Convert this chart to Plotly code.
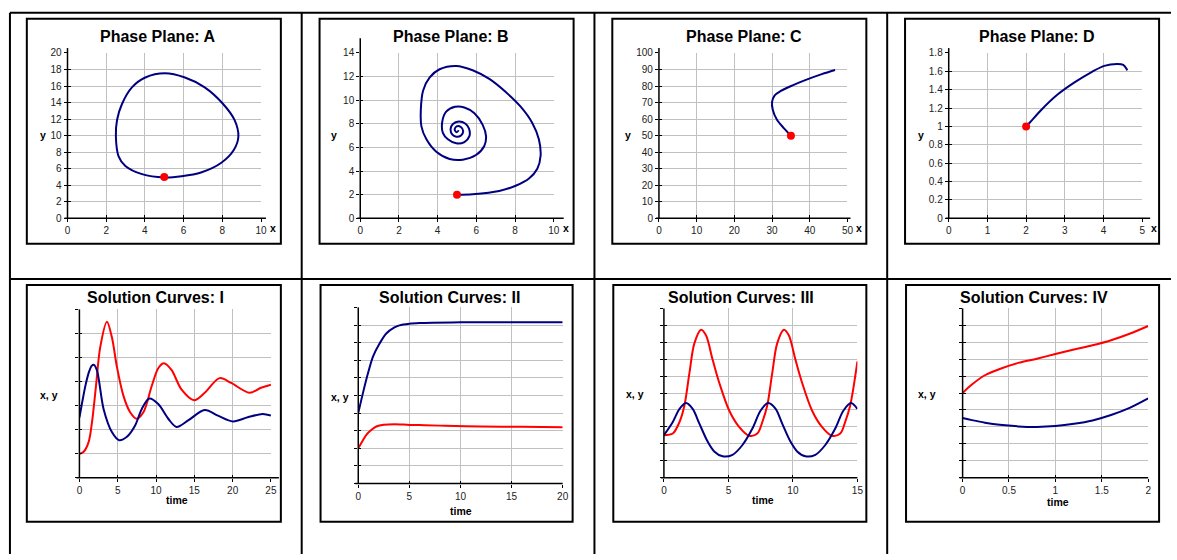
import plotly.graph_objects as go

W, H = 1177, 560

# ---------------- data ----------------
# Phase Plane A (closed orbit)
A_x = [5.0, 5.9, 6.9, 7.95, 8.6, 8.83, 8.63, 8.03, 7.09, 6.07, 5.03, 4.02, 3.33, 2.82, 2.56, 2.5, 2.64, 2.99, 3.85, 5.0]
A_y = [4.95, 5.1, 5.55, 6.73, 8.3, 9.9, 11.9, 13.86, 15.84, 17.03, 17.54, 17.03, 15.84, 13.86, 11.9, 9.9, 7.5, 6.34, 5.35, 4.95]
A_start = (5, 5)

# Phase Plane B (spiral)
B_x = [5.0, 5.81, 7.18, 8.03, 8.72, 9.15, 9.32, 9.23, 8.89, 8.29, 7.52, 6.67, 5.81, 4.96, 4.1, 3.59, 3.25, 3.13,
       3.16, 3.42, 3.93, 4.62, 5.3, 5.98, 6.41, 6.5, 6.32, 5.9, 5.38, 4.9, 4.44, 4.24, 4.27, 4.53, 4.96, 5.38,
       5.64, 5.62, 5.44, 5.09, 4.79, 4.67, 4.75, 4.96, 5.21, 5.32, 5.2, 4.98, 4.88, 4.98, 5.09]
B_y = [2.0, 2.05, 2.32, 2.76, 3.37, 4.2, 5.3, 6.69, 8.07, 9.45, 10.69, 11.8, 12.54, 12.9, 12.62, 11.93, 10.83, 9.17,
       7.79, 6.69, 5.64, 5.03, 4.97, 5.36, 6.13, 6.96, 7.93, 8.9, 9.39, 9.44, 9.03, 8.2, 7.24, 6.69, 6.35, 6.46,
       6.96, 7.6, 8.01, 8.2, 7.98, 7.57, 7.1, 6.91, 7.02, 7.38, 7.73, 7.79, 7.51, 7.29, 7.46]
B_start = (5, 2)

# Phase Plane C
C_x = [35.0, 33.1, 31.3, 30.2, 30.0, 30.7, 32.2, 35.3, 38.8, 43.2, 46.7]
C_y = [50.0, 54.6, 59.6, 65.5, 70.4, 74.4, 76.9, 80.3, 83.6, 87.2, 89.7]
C_start = (35, 50)

# Phase Plane D
D_x = [2.0, 2.09, 2.39, 2.82, 3.25, 3.68, 4.02, 4.36, 4.51, 4.59, 4.61]
D_y = [1.0, 1.04, 1.18, 1.35, 1.48, 1.59, 1.66, 1.68, 1.67, 1.63, 1.61]
D_start = (2, 1)

# Solution Curves I
I_tx = [0, 0.4, 0.8, 1.2, 1.6, 1.9, 2.3, 3.16, 4.24, 5.19, 6.2, 7.27, 8.13, 9.13, 10.29, 11.6, 12.67, 14.19,
        16.35, 18.08, 20.03, 21.97, 23.92, 25]
I_x = [2.5, 3.2, 3.85, 4.35, 4.65, 4.69, 4.45, 2.85, 1.9, 1.56, 1.7, 2.17, 2.85, 3.29, 3.06, 2.45, 2.11, 2.38,
       2.81, 2.58, 2.34, 2.51, 2.65, 2.58]
I_ty = [0, 0.56, 1.21, 1.64, 2.16, 2.72, 3.59, 4.24, 4.89, 5.75, 6.62, 7.48, 8.35, 9.43, 10.29, 11.03, 12.02,
        13.32, 14.97, 16.35, 18.3, 19.81, 22.2, 23.7, 25]
I_y = [0.99, 1.08, 1.49, 2.3, 3.8, 5.43, 6.48, 5.84, 4.62, 3.4, 2.72, 2.45, 2.72, 3.8, 4.55, 4.76, 4.48, 3.67,
       3.22, 3.53, 4.14, 3.94, 3.53, 3.74, 3.87]

# Solution Curves II
II_tx = [0, 0.48, 0.97, 1.45, 2.1, 2.74, 3.5, 4.03, 5, 6, 7.26, 10, 15, 20]
II_x = [4.0, 5.19, 6.3, 7.22, 7.96, 8.52, 8.85, 8.98, 9.07, 9.11, 9.13, 9.15, 9.15, 9.15]
II_ty = [0, 0.4, 0.81, 1.3, 1.77, 2.5, 3.55, 5, 6.5, 8.5, 12, 16, 20]
II_y = [2.0, 2.4, 2.78, 3.05, 3.24, 3.34, 3.37, 3.33, 3.31, 3.28, 3.24, 3.22, 3.2]

# Solution Curves III
III_tx = [0, 0.69, 1.21, 1.72, 2.23, 2.75, 3.39, 3.9, 4.55, 5.32, 6.09, 6.86, 7.5, 8.09, 8.66, 9.17, 9.81,
          10.33, 10.97, 11.74, 12.51, 13.28, 13.92, 14.51, 15]
III_x = [2.51, 3.29, 4.06, 4.41, 4.06, 3.19, 2.13, 1.55, 1.26, 1.35, 1.93, 2.9, 3.97, 4.41, 4.06, 3.19, 2.13,
         1.55, 1.26, 1.35, 1.93, 2.9, 3.97, 4.41, 4.06]
III_ty = [0, 0.69, 1.21, 1.59, 1.98, 2.36, 2.88, 3.26, 3.78, 4.29, 5.06, 5.83, 6.6, 7.24, 7.63, 8.01, 8.4, 8.78,
          9.3, 9.68, 10.2, 10.71, 11.48, 12.25, 13.02, 13.67, 14.05, 14.44, 15]
III_y = [2.51, 2.61, 3.29, 4.26, 6.19, 7.93, 8.74, 8.41, 6.96, 5.61, 3.97, 3.0, 2.48, 2.61, 3.29, 4.26, 6.19,
         7.93, 8.74, 8.41, 6.96, 5.61, 3.97, 3.0, 2.48, 2.61, 3.29, 4.26, 6.87]

# Solution Curves IV
IV_t = [0, 0.1, 0.24, 0.4, 0.6, 0.8, 1.0, 1.2, 1.4, 1.6, 1.8, 2.0]
IV_x = [3.52, 3.4, 3.25, 3.12, 3.03, 3.0, 3.05, 3.18, 3.38, 3.7, 4.12, 4.68]
IV_y = [5.0, 5.5, 6.05, 6.42, 6.78, 7.03, 7.3, 7.57, 7.82, 8.12, 8.5, 8.96]

# ---------------- styling / layout ----------------
NAVY = "#000080"
RED = "#ff0000"
GRID = "#c0c0c0"
FONT = "Liberation Sans, Arial, sans-serif"

charts = [
    dict(title="Phase Plane: A", box=(24, 13, 280, 243), area=(65, 217, 260, 48), xr=[0, 10], xd=2, yr=[0, 20], yd=2,
         ylab=True, tpos=(156, 31), over=(5, 5), xl=("x", 272.5, 227), yl=("y", 40, 132),
         lines=[(A_x, A_y, NAVY)], dot=A_start),
    dict(title="Phase Plane: B", box=(319, 13, 575, 243), area=(360, 217, 555, 48), xr=[0, 10], xd=2, yr=[0, 14], yd=2,
         ylab=True, tpos=(451, 31), over=(10, 15), xl=("x", 567.5, 227), yl=("y", 334, 132),
         lines=[(B_x, B_y, NAVY)], dot=B_start),
    dict(title="Phase Plane: C", box=(614, 13, 870, 243), area=(661, 217, 851, 48), xr=[0, 50], xd=10, yr=[0, 100], yd=10,
         ylab=True, tpos=(746.5, 31), over=(3, 5), xl=("x", 862.5, 227), yl=("y", 630, 132),
         lines=[(C_x, C_y, NAVY)], dot=C_start),
    dict(title="Phase Plane: D", box=(909, 13, 1165, 243), area=(953, 217, 1148, 48), xr=[0, 5], xd=1, yr=[0, 1.8], yd=0.2,
         ylab=True, tpos=(1041.5, 31), over=(8, 5), xl=("x", 1160, 227), yl=("y", 925, 132),
         lines=[(D_x, D_y, NAVY)], dot=D_start),
    dict(title="Solution Curves: I", box=(24, 285, 280, 527), area=(77, 482, 270, 310), xr=[0, 25], xd=5, yr=[0, 7], yd=1,
         ylab=False, tpos=(154, 298), over=(8, 0), xl=("time", 175.5, 505), yl=("x, y", 46.5, 398),
         lines=[(I_ty, I_y, RED), (I_tx, I_x, NAVY)], dot=None),
    dict(title="Solution Curves: II", box=(320, 285, 574, 527), area=(358, 488, 564, 308), xr=[0, 20], xd=5, yr=[0, 10], yd=1,
         ylab=False, tpos=(449.5, 298), over=(0, 0), xl=("time", 462, 516), yl=("x, y", 340, 400),
         lines=[(II_ty, II_y, RED), (II_tx, II_x, NAVY)], dot=None),
    dict(title="Solution Curves: III", box=(615, 285, 870, 527), area=(666, 482, 861, 309), xr=[0, 15], xd=5, yr=[0, 10], yd=1,
         ylab=False, tpos=(744, 298), over=(0, 0), xl=("time", 765.5, 505), yl=("x, y", 636.5, 397),
         lines=[(III_ty, III_y, RED), (III_tx, III_x, NAVY)], dot=None),
    dict(title="Solution Curves: IV", box=(910, 285, 1165, 527), area=(967, 482, 1154, 309), xr=[0, 2], xd=0.5, yr=[0, 10], yd=1,
         ylab=False, tpos=(1039, 298), over=(0, 0), xl=("time", 1063, 507), yl=("x, y", 931.5, 397),
         lines=[(IV_t, IV_y, RED), (IV_t, IV_x, NAVY)], dot=None),
]


def px(x):
    return x / W


def py(y):
    return 1 - y / H


fig = go.Figure()
shapes = []
annotations = []
layout = {}
N = len(charts)

for i, c in enumerate(charts, start=1):
    xa = "x" if i == 1 else f"x{i}"
    ya = "y" if i == 1 else f"y{i}"
    xk = "xaxis" if i == 1 else f"xaxis{i}"
    yk = "yaxis" if i == 1 else f"yaxis{i}"
    j = i + N
    x2a, y2a = f"x{j}", f"y{j}"
    x2k, y2k = f"xaxis{j}", f"yaxis{j}"
    x0, y0, x1, y1 = c["area"]
    xdom = [px(x0), px(x1)]
    ydom = [py(y0), py(y1)]
    tickfont = dict(family=FONT, size=10, color="#222")
    layout[xk] = dict(domain=xdom, range=c["xr"], anchor=ya, tickmode="linear", tick0=0, dtick=c["xd"],
                      ticks="outside", ticklen=3, tickwidth=1, tickcolor="black", showgrid=True,
                      gridcolor=GRID, gridwidth=1.3, zeroline=False, showline=False, tickfont=tickfont,
                      fixedrange=True)
    layout[yk] = dict(domain=ydom, range=c["yr"], anchor=xa, tickmode="linear", tick0=0, dtick=c["yd"],
                      ticks="outside", ticklen=3, tickwidth=1, tickcolor="black", showgrid=True,
                      gridcolor=GRID, gridwidth=1.3, zeroline=False, showline=False, tickfont=tickfont,
                      showticklabels=c["ylab"], fixedrange=True)
    layout[x2k] = dict(overlaying=xa, range=c["xr"], anchor=y2a, tickmode="linear", tick0=0, dtick=c["xd"],
                       ticks="inside", ticklen=3, tickwidth=1, tickcolor="black", showgrid=False,
                       zeroline=False, showline=False, showticklabels=False, fixedrange=True)
    layout[y2k] = dict(overlaying=ya, range=c["yr"], anchor=x2a, tickmode="linear", tick0=0, dtick=c["yd"],
                       ticks="inside", ticklen=3, tickwidth=1, tickcolor="black", showgrid=False,
                       zeroline=False, showline=False, showticklabels=False, fixedrange=True)
    fig.add_trace(go.Scatter(x=[None], y=[None], xaxis=x2a, yaxis=y2a, showlegend=False, hoverinfo="skip"))

    for (lx, ly, col) in c["lines"]:
        fig.add_trace(go.Scatter(x=lx, y=ly, xaxis=xa, yaxis=ya, mode="lines",
                                 line=dict(color=col, width=2, shape="spline", smoothing=0.9),
                                 showlegend=False, hoverinfo="skip"))
    if c["dot"] is not None:
        fig.add_trace(go.Scatter(x=[c["dot"][0]], y=[c["dot"][1]], xaxis=xa, yaxis=ya, mode="markers",
                                 marker=dict(color=RED, size=8), showlegend=False, hoverinfo="skip"))

    # axis lines (Excel style, slightly overshooting)
    ox, oy = c["over"]
    shapes.append(dict(type="line", xref="paper", yref="paper", x0=px(x0 - 3), x1=px(x1 + ox), y0=py(y0), y1=py(y0),
                       line=dict(color="black", width=1.5), layer="above"))
    shapes.append(dict(type="line", xref="paper", yref="paper", x0=px(x0), x1=px(x0), y0=py(y0), y1=py(y1 - oy),
                       line=dict(color="black", width=1.5), layer="above"))
    # chart box
    bx0, by0, bx1, by1 = c["box"]
    shapes.append(dict(type="rect", xref="paper", yref="paper", x0=px(bx0), x1=px(bx1), y0=py(by1), y1=py(by0),
                       line=dict(color="black", width=2), fillcolor="rgba(0,0,0,0)", layer="below"))
    # texts
    annotations.append(dict(text=f"<b>{c['title']}</b>", x=px(c["tpos"][0]), y=py(c["tpos"][1]), xref="paper",
                            yref="paper", showarrow=False, xanchor="center", yanchor="middle",
                            font=dict(family=FONT, size=16, color="black")))
    for (t, tx, ty) in (c["xl"], c["yl"]):
        annotations.append(dict(text=f"<b>{t}</b>", x=px(tx), y=py(ty), xref="paper", yref="paper",
                                showarrow=False, xanchor="center", yanchor="middle",
                                font=dict(family=FONT, size=10.5, color="black")))

# table lines
TL = dict(color="black", width=2)
for (xa0, ya0, xa1, ya1) in [(7, 7, 1177, 7), (7, 279, 1177, 279), (7, 7, 7, 560), (301, 7, 301, 560),
                             (596, 7, 596, 560), (891, 7, 891, 560)]:
    shapes.append(dict(type="line", xref="paper", yref="paper", x0=px(xa0), x1=px(xa1), y0=py(ya0), y1=py(ya1),
                       line=TL, layer="above"))

fig.update_layout(width=W, height=H, margin=dict(l=0, r=0, t=0, b=0), paper_bgcolor="white",
                  plot_bgcolor="white", showlegend=False, shapes=shapes, annotations=annotations, **layout)
fig.write_html("out.html", config={"displayModeBar": False})
